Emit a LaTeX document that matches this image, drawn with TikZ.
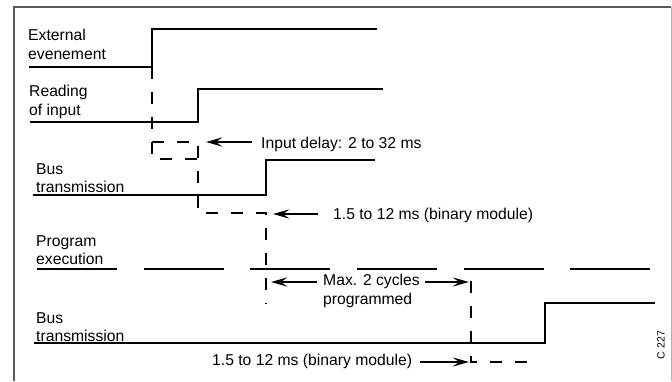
\documentclass[tikz,border=0pt]{standalone}
\usepackage{fontspec}
\setmainfont{Liberation Sans}
\usetikzlibrary{arrows.meta}

\begin{document}
\begin{tikzpicture}[x=1pt,y=-1pt,
  signal/.style={line width=2.7pt},
  guide/.style={line width=2.7pt,dash pattern=on 12pt off 13pt},
  dim/.style={line width=2.7pt,-{Stealth[length=16pt,width=9pt,inset=6pt]}},
  lbl/.style={inner sep=0pt,font=\fontsize{15.7}{18.5}\selectfont,align=left}]
	\useasboundingbox (0,0) rectangle (672,381);
	% frame
	\draw[black!65,line width=1.5pt] (14,381) -- (14,7) -- (671,7);
	\draw[black!30,line width=1pt] (671,7) -- (671,381);
	% signal names
	\node[lbl,anchor=north west] (ext) at (28,29) {External\\evenement};
	\node[lbl,anchor=north west] (read) at (29,85) {Reading\\of input};
	\node[lbl,anchor=north west] (bus) at (36,163) {Bus\\transmission};
	\node[lbl,anchor=north west] (prog) at (36,235) {Program\\execution};
	\node[lbl,anchor=north west] (busb) at (36,312) {Bus\\transmission};
	% waveforms
	\draw[signal] (29,67) -- (152,67) -- (152,29) -- (377,29);
	\draw[signal] (30,122) -- (198,122) -- (198,89) -- (383,89);
	\draw[signal] (33,195) -- (266,195) -- (266,160) -- (375,160);
	\foreach \i in {0,...,5}
		\draw[signal] (37+106.67*\i,269) -- ++(80,0);
	\draw[signal] (34,343) -- (545,343) -- (545,303) -- (655,303);
	% timing guides
	\draw[guide] (152,67) -- (152,159) -- (198,159);
	\draw[guide] (152,142) -- (198,142) -- (198,213) -- (266,213) -- (266,304);
	\draw[guide] (471,281) -- (471,362) -- (531,362);
	% delays
	\coordinate (t1) at (206,142);
	\coordinate (t2) at (273,214);
	\coordinate (t3) at (271,282);
	\coordinate (t4) at (469,282);
	\coordinate (t5) at (469,362);
	\node[lbl,anchor=base west] (delay) at (261,148.5) {Input delay: 2 to 32 ms};
	\node[lbl,anchor=base west] (bin) at (333,219.5) {1.5 to 12 ms (binary module)};
	\node[lbl,anchor=north west] (cyc) at (323,274) {Max. 2 cycles\\programmed};
	\node[lbl,anchor=base west] (binb) at (212,365) {1.5 to 12 ms (binary module)};
	\draw[dim,shorten <=9pt] (delay.west |- t1) -- (t1);
	\draw[dim,shorten <=15pt] (bin.west |- t2) -- (t2);
	\draw[dim,shorten <=6pt] (cyc.west |- t3) -- (t3);
	\draw[dim,shorten <=5pt] (cyc.east |- t4) -- (t4);
	\draw[dim,shorten <=8pt] (binb.east |- t5) -- (t5);
	\node[rotate=90,inner sep=0pt,font=\fontsize{10.5}{12}\selectfont] (ref) at (661,345) {C 227};
\end{tikzpicture}
\end{document}
